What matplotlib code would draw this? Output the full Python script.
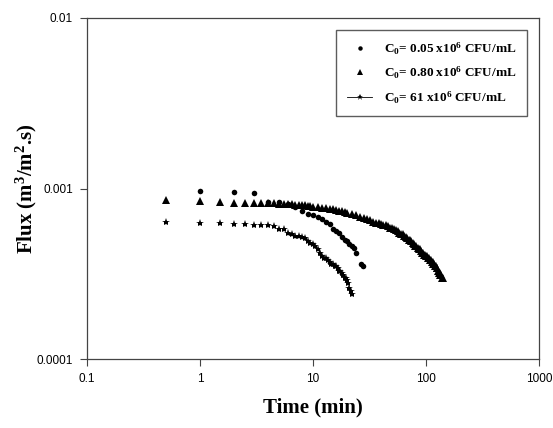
import matplotlib
matplotlib.use("Agg")
import matplotlib.pyplot as plt
from matplotlib.lines import Line2D

# C0 = 0.05 x10^6 CFU/mL
t_low = [1, 2, 3, 4, 5, 6, 7, 8, 9, 10, 11, 12, 13, 14, 15, 16, 17, 18, 19,
         20, 21, 22, 23, 24, 26.7, 27.6]
j_low = [0.00097, 0.00096, 0.00094, 0.00083, 0.00083, 0.00081, 0.00078, 0.00074,
         0.00071, 0.00070, 0.00068, 0.00066, 0.00064, 0.00062, 0.00058, 0.00056,
         0.00055, 0.00052, 0.00050, 0.00049, 0.00047, 0.00046, 0.00045, 0.00042,
         0.00036, 0.00035]

# C0 = 0.80 x10^6 CFU/mL
t_mid = [0.5, 1, 1.5, 2, 2.5, 3, 3.5, 4, 4.5, 5, 5.5, 6, 6.5, 7, 7.5, 8, 8.5, 9,
         9.5, 10, 11, 12, 13, 14, 15, 16, 17, 18, 19, 20, 22, 24, 26, 28, 30, 32,
         34, 36, 38, 40, 42, 44, 46, 48, 50, 52, 54, 56, 58, 60, 62, 64, 66, 68,
         70, 72, 74, 76, 78, 80, 82, 84, 86, 88, 90, 92, 94, 96, 98, 100, 102,
         104, 106, 108, 110, 112, 114, 116, 118, 120, 122, 124, 126, 128, 130,
         132, 134, 136, 138, 140]
j_mid = [0.00086, 0.00084, 0.00083, 0.00082, 0.00082, 0.00082, 0.00082, 0.00082,
         0.00082, 0.00081, 0.00081, 0.00081, 0.00081, 0.00080, 0.00080, 0.00080,
         0.00080, 0.00079, 0.00079, 0.00078, 0.00078, 0.00077, 0.00077, 0.00076,
         0.00076, 0.00075, 0.00074, 0.00074, 0.00073, 0.00072, 0.00071, 0.00070,
         0.00068, 0.00067, 0.00066, 0.00065, 0.00064, 0.00063, 0.00063, 0.00062,
         0.00061, 0.00061, 0.00060, 0.00059, 0.00059, 0.00058, 0.00057, 0.00056,
         0.00055, 0.00054, 0.00054, 0.00053, 0.00052, 0.00051, 0.00050, 0.00050,
         0.00049, 0.00048, 0.00047, 0.00046, 0.00046, 0.00045, 0.00044, 0.00044,
         0.00043, 0.00042, 0.00042, 0.00041, 0.00041, 0.00040, 0.00040, 0.00039,
         0.00039, 0.00038, 0.00038, 0.00037, 0.00037, 0.00036, 0.00036, 0.00035,
         0.00035, 0.00034, 0.00034, 0.00033, 0.00032, 0.00032, 0.00031, 0.00031,
         0.00030, 0.00030]

# C0 = 61 x10^6 CFU/mL
t_high = [0.5, 1, 1.5, 2, 2.5, 3, 3.5, 4, 4.5, 5, 5.5, 6, 6.5, 7, 7.5, 8, 8.5,
          9, 9.5, 10, 10.5, 11, 11.5, 12, 12.5, 13, 13.5, 14, 14.5, 15, 15.5,
          16, 16.5, 17, 17.5, 18, 18.5, 19, 19.5, 20, 20.5, 21, 21.5, 22]
j_high = [0.00064, 0.00063, 0.00063, 0.00062, 0.00062, 0.00061, 0.00061, 0.00061,
          0.00060, 0.00058, 0.00058, 0.00055, 0.00054, 0.00053, 0.00053, 0.00052,
          0.00051, 0.00049, 0.00048, 0.00047, 0.00046, 0.00044, 0.00042, 0.00040,
          0.00039, 0.00039, 0.00038, 0.00037, 0.00036, 0.00036, 0.00035, 0.00035,
          0.00034, 0.00033, 0.00033, 0.00032, 0.00031, 0.00030, 0.00030, 0.00029,
          0.00028, 0.00026, 0.00025, 0.00024]

labels = ["C$_0$= 0.05 x10$^6$ CFU/mL",
          "C$_0$= 0.80 x10$^6$ CFU/mL",
          "C$_0$= 61 x10$^6$ CFU/mL"]

plt.rcParams["mathtext.fontset"] = "custom"
plt.rcParams["mathtext.rm"] = "Liberation Serif:bold"
plt.rcParams["mathtext.it"] = "Liberation Serif:bold"
plt.rcParams["mathtext.bf"] = "Liberation Serif:bold"

fig = plt.figure(figsize=(5.53, 4.28), dpi=100)
ax = fig.add_axes([0.157, 0.161, 0.818, 0.797])

ms_c, ms_t, ms_s = 4.0, 5.2, 6.0
ax.plot(t_low, j_low, "o", color="black", markersize=ms_c, markeredgewidth=0)
ax.plot(t_mid, j_mid, "^", color="black", markersize=ms_t, markeredgewidth=0)
ax.plot(t_high, j_high, "*", color="black", markersize=ms_s, markeredgewidth=0)

ax.set_xscale("log")
ax.set_yscale("log")
ax.set_xlim(0.1, 1000)
ax.set_ylim(0.0001, 0.01)
ax.set_xticks([0.1, 1, 10, 100, 1000])
ax.set_xticklabels(["0.1", "1", "10", "100", "1000"])
ax.set_yticks([0.0001, 0.001, 0.01])
ax.set_yticklabels(["0.0001", "0.001", "0.01"])
ax.minorticks_off()
ax.tick_params(direction="out", length=5, width=0.8, color="#444444",
               labelsize=8.5, pad=5, labelfontfamily="Liberation Sans")
for sp in ax.spines.values():
    sp.set_color("#444444")
    sp.set_linewidth(0.9)

ax.set_xlabel("Time (min)", family="Liberation Serif", fontweight="bold",
              fontsize=15, labelpad=9)
ax.set_ylabel("Flux (m$^3$/m$^2$.s)", family="Liberation Serif",
              fontweight="bold", fontsize=15, labelpad=-2)

# smaller markers in the legend box
handles = [
    Line2D([], [], marker="o", ls="none", color="black", markersize=3.2, markeredgewidth=0),
    Line2D([], [], marker="^", ls="none", color="black", markersize=4.0, markeredgewidth=0),
    Line2D([], [], marker="*", ls="-", lw=0.6, color="black", markersize=5.0, markeredgewidth=0),
]
leg = ax.legend(handles, labels, loc="upper right", bbox_to_anchor=(0.973, 0.965),
                prop={"family": "Liberation Serif", "weight": "bold", "size": 9.5},
                frameon=True, fancybox=False, edgecolor="#333333",
                handlelength=1.9, handletextpad=0.9, borderpad=0.8,
                labelspacing=0.6, borderaxespad=0)
leg.get_frame().set_linewidth(1.0)

fig.savefig("out.png", dpi=100)
